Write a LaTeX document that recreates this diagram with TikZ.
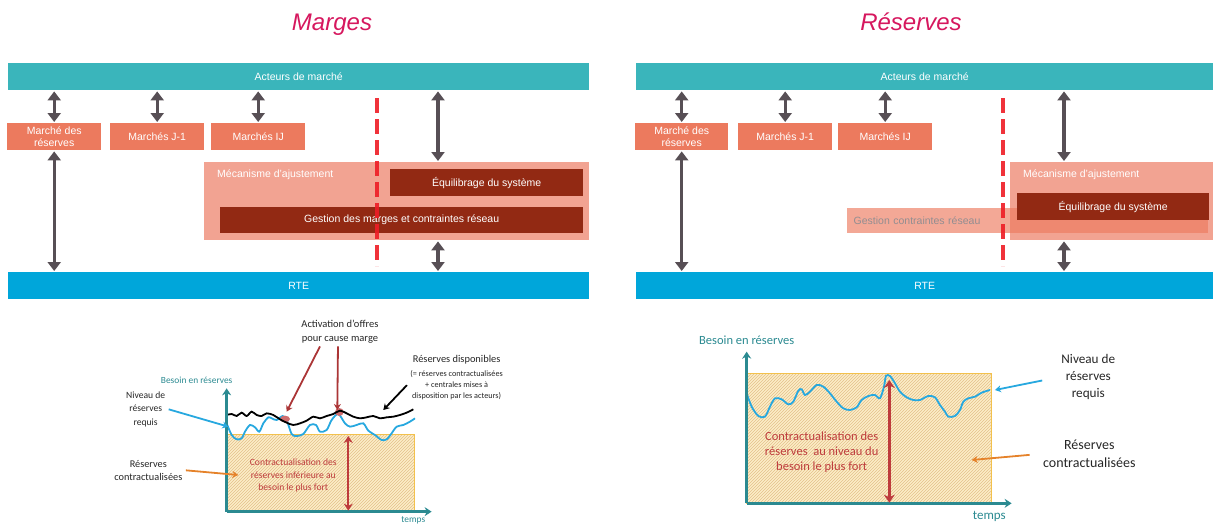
\documentclass[tikz,border=0pt]{standalone}
\usepackage{fontspec}
\setmainfont{Liberation Sans}
\newfontfamily\chartfont{Carlito}
\usetikzlibrary{arrows.meta, patterns, positioning}
\definecolor{RTEteal}{HTML}{3AB5BB}
\definecolor{RTEblue}{HTML}{00A6DA}
\definecolor{RTEsalmon}{HTML}{EC7A5E}
\definecolor{RTElight}{HTML}{F2A392}
\definecolor{RTEdark}{HTML}{922913}
\definecolor{RTEgrey}{HTML}{574F55}
\definecolor{RTEred}{HTML}{EE1C25}
\definecolor{RTEpink}{HTML}{D6175E}
\definecolor{ChartTeal}{HTML}{2B8A91}
\definecolor{ChartBlue}{HTML}{27A8DF}
\definecolor{ChartRed}{HTML}{BE3B3C}
\definecolor{ChartOrange}{HTML}{E5822A}
\definecolor{ChartFill}{HTML}{FDEDC8}
\definecolor{ChartEdge}{HTML}{F3C14C}
\definecolor{ChartHatch}{HTML}{E3C18A}
\definecolor{ChartText}{HTML}{262626}

\tikzset{
  box/.style={rectangle, anchor=north west, inner sep=0pt, minimum height=27pt,
    text=white, align=center, font=\fontsize{10.5}{12}\selectfont},
  title/.style={anchor=base, text=RTEpink, font=\fontsize{24}{28}\selectfont\itshape},
  dbl/.style={draw=RTEgrey, line width=3.4pt, shorten >=1pt, shorten <=1pt,
    {Triangle[width=13pt,length=9pt]}-{Triangle[width=13pt,length=9pt]}},
  cut/.style={draw=RTEred, line width=4.6pt, dash pattern=on 15pt off 6pt, opacity=0.9},
  axis/.style={draw=ChartTeal, line width=2.4pt, -{Stealth[width=9pt,length=7pt]}},
  curve/.style={line width=1.8pt},
  note/.style={text=ChartText, align=center},
  pointer/.style={line width=1.8pt, -{Stealth[width=7pt,length=6pt]}},
}

\begin{document}
\begin{tikzpicture}[x=1pt, y=-1pt]
  \useasboundingbox (0,0) rectangle (1213,525);

  % ---------------- Marges (left) ----------------
  \node[title] (titleL) at (332,30) {Marges};

  \node[box, fill=RTEteal, minimum width=581pt] (actL) at (8,63) {Acteurs de marché};
  \node[box, fill=RTEblue, minimum width=581pt] (rteL) at (8,272) {RTE};

  \node[box, fill=RTEsalmon, minimum width=94pt] (mdrL) at (7,123) {Marché des\\réserves};
  \node[box, fill=RTEsalmon, minimum width=94pt] (j1L) at (110,123) {Marchés J-1};
  \node[box, fill=RTEsalmon, minimum width=94pt] (ijL) at (211,123) {Marchés IJ};

  \node[box, fill=RTElight, minimum width=385pt, minimum height=78pt] (mecaL) at (204,162) {};
  \node[box, anchor=west] (mecaLtxt) at (217,175) {Mécanisme d’ajustement};
  \node[box, fill=RTEdark, minimum width=193pt] (equiL) at (390,169) {Équilibrage du système};
  \node[box, fill=RTEdark, minimum width=363pt, minimum height=26pt] (gestL) at (220,207) {Gestion des marges et contraintes réseau};

  \coordinate (aL) at (438,0);
  \draw[dbl] (actL.south -| mdrL.north) -- (mdrL.north);
  \draw[dbl] (actL.south -| j1L.north) -- (j1L.north);
  \draw[dbl] (actL.south -| ijL.north) -- (ijL.north);
  \draw[dbl] (mdrL.south) -- (rteL.north -| mdrL.south);
  \draw[dbl] (actL.south -| aL) -- (mecaL.north -| aL);
  \draw[dbl] (mecaL.south -| aL) -- (rteL.north -| aL);

  \coordinate (cutLtop) at (377,98);
  \coordinate (cutLbot) at (377,266);
  \draw[cut] (cutLtop) -- (cutLbot);

  % ---------------- Réserves (right) ----------------
  \node[title] (titleR) at (911,30) {Réserves};

  \node[box, fill=RTEteal, minimum width=577pt] (actR) at (636,63) {Acteurs de marché};
  \node[box, fill=RTEblue, minimum width=577pt] (rteR) at (636,272) {RTE};

  \node[box, fill=RTEsalmon, minimum width=93pt] (mdrR) at (635,123) {Marché des\\réserves};
  \node[box, fill=RTEsalmon, minimum width=94pt] (j1R) at (738,123) {Marchés J-1};
  \node[box, fill=RTEsalmon, minimum width=94pt] (ijR) at (838,123) {Marchés IJ};

  \node[box, fill=RTElight, minimum width=203pt, minimum height=78pt] (mecaR) at (1010,162) {};
  \node[box, anchor=west] (mecaRtxt) at (1023,175) {Mécanisme d’ajustement};
  \node[box, fill=RTEsalmon, fill opacity=0.65, text opacity=1, text=RTEgrey!65,
    minimum width=361pt, minimum height=25pt, align=left, text width=348pt] (gestR) at (847,208) {Gestion contraintes réseau};
  \node[box, fill=RTEdark, minimum width=192pt] (equiR) at (1017,193) {Équilibrage du système};

  \coordinate (aR) at (1064,0);
  \draw[dbl] (actR.south -| mdrR.north) -- (mdrR.north);
  \draw[dbl] (actR.south -| j1R.north) -- (j1R.north);
  \draw[dbl] (actR.south -| ijR.north) -- (ijR.north);
  \draw[dbl] (mdrR.south) -- (rteR.north -| mdrR.south);
  \draw[dbl] (actR.south -| aR) -- (mecaR.north -| aR);
  \draw[dbl] (mecaR.south -| aR) -- (rteR.north -| aR);

  \coordinate (cutRtop) at (1003,98);
  \coordinate (cutRbot) at (1003,266);
  \draw[cut] (cutRtop) -- (cutRbot);

  % ---------------- chart under Marges ----------------
  \begin{scope}[shift={(100,310)}, x=0.3333pt, y=-0.3333pt, font=\chartfont]
    \fill[ChartFill] (380,375) rectangle (945,605);
    \fill[pattern=north east lines, pattern color=ChartHatch] (380,375) rectangle (945,605);
    \draw[ChartEdge, line width=1pt] (380,375) rectangle (945,605);

    \draw[curve, ChartBlue] plot[smooth] coordinates {(382,345) (395,375) (410,388) (425,385)
      (435,365) (450,345) (465,352) (478,365) (490,340) (505,322) (515,325) (530,330)
      (548,318) (560,330) (575,372) (590,378) (610,372) (630,345) (648,345) (660,365)
      (680,360) (695,330) (715,312) (735,340) (750,350) (770,345) (790,340) (805,362)
      (825,375) (845,390) (860,388) (875,370) (890,350) (910,345) (930,335) (945,325)};
    \fill[ChartRed!75] (555,327) ellipse [x radius=15, y radius=10];
    \fill[ChartRed!75] (718,306) ellipse [x radius=13, y radius=12];
    \draw[curve, black] plot[smooth] coordinates {(380,315) (395,312) (410,318) (425,308)
      (440,318) (455,305) (470,315) (485,318) (500,310) (520,315) (540,328) (560,338)
      (580,345) (600,340) (620,332) (640,320) (660,325) (680,318) (700,312) (720,302)
      (740,310) (760,320) (780,325) (800,322) (820,318) (840,325) (860,322) (880,320)
      (900,315) (920,308) (940,298)};

    \coordinate (oL) at (380,605);
    \draw[axis] (oL) -- (380,235);
    \draw[axis] (oL) -- (995,605);
    \node[text=ChartTeal, font=\chartfont\fontsize{9.4}{11}\selectfont] (besoinL) at (290,212) {Besoin en réserves};
    \node[text=ChartTeal, font=\chartfont\fontsize{9.4}{11}\selectfont] (tempsL) at (940,630) {temps};

    \node[note, text=ChartRed, font=\chartfont\fontsize{9.6}{12.5}\selectfont] (contracL) at (580,497)
      {Contractualisation des\\réserves inférieure au\\besoin le plus fort};
    \coordinate (dblLtop) at (745,378);
    \coordinate (dblLbot) at (745,602);
    \draw[ChartRed, line width=2.2pt, {Stealth[width=9pt,length=7pt]}-{Stealth[width=9pt,length=7pt]}] (dblLtop) -- (dblLbot);

    \node[note, font=\chartfont\fontsize{10.5}{13.3}\selectfont] (activL) at (720,65) {Activation d’offres\\pour cause marge};
    \coordinate (bumpA) at (560,305);
    \coordinate (bumpB) at (712,300);
    \draw[pointer, ChartRed!90!black] ([xshift=-20pt]activL.south) -- (bumpA);
    \draw[pointer, ChartRed!90!black] ([xshift=-2pt]activL.south) -- (bumpB);

    \node[note, font=\chartfont\fontsize{10.4}{12}\selectfont] (dispoL) at (1070,150) {Réserves disponibles};
    \node[note, font=\chartfont\fontsize{8.2}{11}\selectfont, below=-1pt of dispoL] (dispoLsub)
      {(= réserves contractualisées\\+ centrales mises à\\disposition par les acteurs)};
    \coordinate (blackL) at (850,300);
    \draw[pointer, black] (dispoLsub.west) -- (blackL);

    \node[note, font=\chartfont\fontsize{9.6}{13.3}\selectfont] (niveauL) at (137,298) {Niveau de\\réserves\\requis};
    \coordinate (blueL) at (385,350);
    \draw[pointer, ChartBlue] (niveauL.east) -- (blueL);

    \node[note, font=\chartfont\fontsize{10.3}{12.5}\selectfont] (reservL) at (145,481) {Réserves\\contractualisées};
    \coordinate (orangeL) at (415,495);
    \draw[pointer, ChartOrange] (reservL.east) -- (orangeL);
  \end{scope}

  % ---------------- chart under Réserves ----------------
  \begin{scope}[shift={(680,320)}, x=0.3333pt, y=-0.3333pt, font=\chartfont]
    \fill[ChartFill] (200,160) rectangle (935,550);
    \fill[pattern=north east lines, pattern color=ChartHatch] (200,160) rectangle (935,550);
    \draw[ChartEdge, line width=1pt] (200,160) rectangle (935,550);

    \draw[curve, ChartBlue] plot[smooth] coordinates {(200,220) (215,260) (235,288) (255,290)
      (270,260) (285,235) (305,238) (325,253) (340,245) (355,212) (365,208) (375,225)
      (390,215) (410,195) (430,200) (450,220) (470,245) (490,265) (510,270) (530,262)
      (545,240) (565,228) (585,225) (600,235) (612,200) (618,168) (630,168) (645,190)
      (660,215) (680,232) (700,240) (720,240) (745,228) (765,232) (780,255) (795,275)
      (805,290) (825,288) (840,270) (850,245) (865,235) (885,230) (905,218) (930,210)};

    \coordinate (oR) at (200,550);
    \draw[axis] (oR) -- (200,95);
    \draw[axis] (oR) -- (995,550);
    \node[text=ChartTeal, font=\chartfont\fontsize{12.5}{14}\selectfont] (besoinR) at (200,60) {Besoin en réserves};
    \node[text=ChartTeal, font=\chartfont\fontsize{13}{15}\selectfont] (tempsR) at (928,590) {temps};

    \node[note, text=ChartRed, font=\chartfont\fontsize{12.5}{15}\selectfont] (contracR) at (425,397)
      {Contractualisation des\\réserves\ \ au niveau du\\besoin le plus fort};
    \coordinate (dblRtop) at (628,180);
    \coordinate (dblRbot) at (628,548);
    \draw[ChartRed, line width=2.6pt, {Stealth[width=11pt,length=8pt]}-{Stealth[width=11pt,length=8pt]}] (dblRtop) -- (dblRbot);

    \node[note, font=\chartfont\fontsize{13.2}{17}\selectfont] (niveauR) at (1225,172) {Niveau de\\réserves\\requis};
    \coordinate (blueR) at (945,210);
    \draw[pointer, ChartBlue, shorten <=16pt] (niveauR.west) -- (blueR);

    \node[note, font=\chartfont\fontsize{14}{18}\selectfont] (reservR) at (1228,402) {Réserves\\contractualisées};
    \coordinate (orangeR) at (875,420);
    \draw[pointer, ChartOrange, shorten <=10pt] (reservR.west) -- (orangeR);
  \end{scope}
\end{tikzpicture}
\end{document}
